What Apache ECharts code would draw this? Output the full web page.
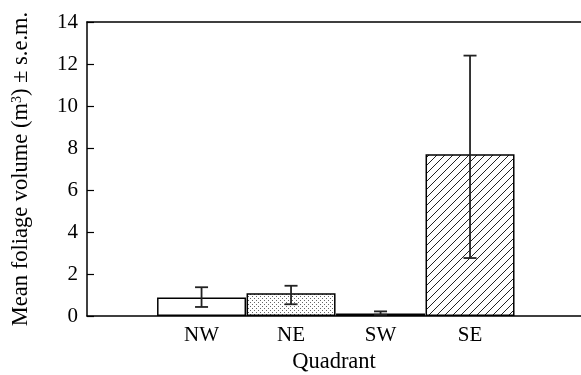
<!DOCTYPE html>
<html>
<head>
<meta charset="utf-8">
<script src="https://cdn.jsdelivr.net/npm/echarts@6/dist/echarts.min.js"></script>
<style>html,body{margin:0;padding:0;background:#fff}#c{width:581px;height:375px}</style>
</head>
<body>
<div id="c"></div>
<script>
// ---- data ----
const categories = ['NW', 'NE', 'SW', 'SE'];
const meanVolume = [0.88, 1.08, 0.12, 7.7];
const errLow = [0.43, 0.56, 0.06, 2.76];
const errHigh = [1.37, 1.44, 0.22, 12.4];
const yTicks = [0, 2, 4, 6, 8, 10, 12, 14];

// ---- fill patterns (style only) ----
function makeHatch() {
  const c = document.createElement('canvas');
  c.width = 8; c.height = 8;
  const g = c.getContext('2d');
  g.fillStyle = '#fff'; g.fillRect(0, 0, 8, 8);
  g.strokeStyle = '#222'; g.lineWidth = 1;
  g.beginPath();
  g.moveTo(-1, 9); g.lineTo(9, -1);
  g.moveTo(-1, 1); g.lineTo(1, -1);
  g.moveTo(7, 9); g.lineTo(9, 7);
  g.stroke();
  return c;
}
function makeStipple() {
  const c = document.createElement('canvas');
  c.width = 4; c.height = 4;
  const g = c.getContext('2d');
  g.fillStyle = '#fff'; g.fillRect(0, 0, 4, 4);
  g.fillStyle = '#666';
  g.fillRect(0, 0, 1, 1); g.fillRect(2, 2, 1, 1);
  return c;
}
const fills = ['#ffffff', { image: makeStipple(), repeat: 'repeat' }, '#000000', { image: makeHatch(), repeat: 'repeat' }];

const font = 'Liberation Serif';
const chart = echarts.init(document.getElementById('c'), null, { renderer: 'canvas' });

const xMin = -0.28, xMax = 5.24;

chart.setOption({
  animation: false,
  backgroundColor: '#fff',
  grid: { left: 87, right: 0, top: 22, bottom: 59, containLabel: false, outerBoundsMode: 'none' },
  xAxis: [{
    type: 'value', min: xMin, max: xMax,
    name: 'Quadrant', nameLocation: 'middle', nameGap: 32,
    nameTextStyle: { fontFamily: font, fontSize: 22.5, color: '#000' },
    axisLine: { show: true, onZero: false, lineStyle: { color: '#000', width: 1.5 } },
    axisTick: { show: false },
    splitLine: { show: false },
    axisLabel: {
      customValues: categories.map((c, i) => i + 1),
      formatter: v => categories[Math.round(v) - 1] || '',
      fontFamily: font, fontSize: 21, color: '#000', margin: 9
    }
  }, {
    type: 'value', min: xMin, max: xMax, position: 'top',
    axisLine: { show: true, onZero: false, lineStyle: { color: '#000', width: 1.5 } },
    axisTick: { show: false }, axisLabel: { show: false }, splitLine: { show: false }
  }],
  yAxis: {
    type: 'value', min: 0, max: 14, interval: 2,
    name: 'Mean foliage volume (m{sup|3}) ± s.e.m.', nameLocation: 'middle', nameGap: 54,
    nameTextStyle: { fontFamily: font, fontSize: 22.5, color: '#000',
      rich: { sup: { fontFamily: font, fontSize: 14, color: '#000', verticalAlign: 'top', padding: [0, 0, 9, 0] } } },
    axisLine: { show: true, onZero: false, lineStyle: { color: '#000', width: 1.5 } },
    axisTick: { show: true, inside: true, length: 7, lineStyle: { color: '#000', width: 1.2 } },
    splitLine: { show: false },
    axisLabel: { fontFamily: font, fontSize: 21, color: '#000', margin: 9,
      customValues: yTicks }
  },
  series: [{
    type: 'bar',
    barWidth: 89,
    data: categories.map((c, i) => ({
      value: [i + 1, meanVolume[i]],
      itemStyle: { color: fills[i], borderColor: '#000', borderWidth: 1.5 }
    }))
  }, {
    type: 'custom',
    data: categories.map((c, i) => [i + 1, errLow[i], errHigh[i]]),
    encode: { x: 0, y: [1, 2] },
    renderItem: function (params, api) {
      const x = api.value(0);
      const lo = api.coord([x, api.value(1)]);
      const hi = api.coord([x, api.value(2)]);
      const hw = 6.5;
      const st = { stroke: '#222', lineWidth: 1.8 };
      return {
        type: 'group',
        children: [
          { type: 'line', shape: { x1: lo[0], y1: lo[1], x2: hi[0], y2: hi[1] }, style: st },
          { type: 'line', shape: { x1: hi[0] - hw, y1: hi[1], x2: hi[0] + hw, y2: hi[1] }, style: st },
          { type: 'line', shape: { x1: lo[0] - hw, y1: lo[1], x2: lo[0] + hw, y2: lo[1] }, style: st }
        ]
      };
    },
    z: 5
  }]
});
</script>
</body>
</html>
